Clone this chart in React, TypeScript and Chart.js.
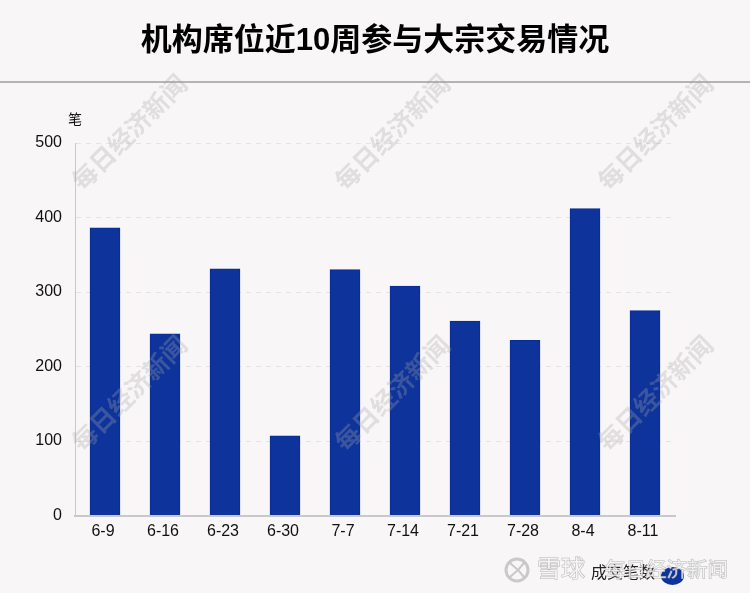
import React, { useEffect, useRef } from 'react';
import { Chart, registerables } from 'chart.js';
import type { Plugin } from 'chart.js';

Chart.register(...registerables);

const FONT = '"Liberation Sans", "Noto Sans CJK SC", sans-serif';

const weeks = ['6-9', '6-16', '6-23', '6-30', '7-7', '7-14', '7-21', '7-28', '8-4', '8-11'];
const tradeCounts = [386, 244, 331, 107, 330, 308, 261, 235, 412, 275];
const titleText = '机构席位近10周参与大宗交易情况';
const unitText = '笔';
const seriesName = '成交笔数';
const watermarkText = '每日经济新闻';
const siteText = '雪球';
const watermarkSpots = [
  [131, 134], [394, 134], [657, 134],
  [131, 395], [394, 395], [657, 395],
];

// page furniture: title, rule, unit, legend and the watermarks
const decorPlugin: Plugin<'bar'> = {
  id: 'decor',
  afterDraw(chart) {
    const { ctx } = chart;
    ctx.save();

    ctx.fillStyle = '#000';
    ctx.font = `bold 31px ${FONT}`;
    ctx.textAlign = 'center';
    ctx.textBaseline = 'middle';
    ctx.fillText(titleText, 375, 41);

    ctx.fillStyle = '#b4b4b4';
    ctx.fillRect(0, 81, 750, 2);

    ctx.fillStyle = '#111';
    ctx.font = `14px ${FONT}`;
    ctx.fillText(unitText, 75, 120);

    // legend
    ctx.fillStyle = '#222';
    ctx.font = `16px ${FONT}`;
    ctx.textAlign = 'left';
    ctx.fillText(seriesName, 591, 574);
    ctx.fillStyle = '#0e339b';
    ctx.beginPath();
    ctx.ellipse(672.5, 576, 11.5, 9, 0, 0, Math.PI * 2);
    ctx.fill();

    // repeated diagonal watermark
    ctx.fillStyle = 'rgba(165,165,165,0.3)';
    ctx.font = `bold 25px ${FONT}`;
    ctx.textAlign = 'center';
    watermarkSpots.forEach(([x, y]) => {
      ctx.save();
      ctx.translate(x, y);
      ctx.rotate(-Math.PI / 4);
      ctx.fillText(watermarkText, 0, 0);
      ctx.restore();
    });

    // site stamp, bottom right
    ctx.fillStyle = 'rgba(255,255,255,0.7)';
    ctx.strokeStyle = 'rgba(150,150,150,0.65)';
    ctx.lineWidth = 1;
    ctx.font = `20.5px ${FONT}`;
    ctx.textAlign = 'left';
    ctx.strokeText(watermarkText, 605, 571);
    ctx.fillText(watermarkText, 605, 571);
    ctx.font = `24px ${FONT}`;
    ctx.strokeText(siteText, 537, 570);
    ctx.fillText(siteText, 537, 570);
    ctx.lineWidth = 3;
    ctx.strokeStyle = 'rgba(190,190,190,0.8)';
    ctx.beginPath();
    ctx.arc(517, 570, 11, 0, Math.PI * 2);
    ctx.stroke();
    ctx.lineWidth = 2;
    ctx.beginPath();
    ctx.moveTo(510, 563);
    ctx.lineTo(518, 570);
    ctx.lineTo(510, 577);
    ctx.moveTo(524, 563);
    ctx.lineTo(518, 570);
    ctx.lineTo(524, 577);
    ctx.stroke();

    ctx.restore();
  },
};

const backgroundPlugin: Plugin<'bar'> = {
  id: 'pageBackground',
  beforeDraw(chart) {
    const { ctx, width, height } = chart;
    ctx.save();
    ctx.fillStyle = '#f9f6f7';
    ctx.fillRect(0, 0, width, height);
    ctx.restore();
  },
};

export default function App() {
  const chartRef = useRef<HTMLCanvasElement>(null);

  useEffect(() => {
    if (!chartRef.current) return;

    const chart = new Chart(chartRef.current, {
      type: 'bar',
      data: {
        labels: weeks,
        datasets: [
          {
            label: seriesName,
            data: tradeCounts,
            backgroundColor: '#0e339b',
            borderColor: '#0a2c96',
            borderWidth: 1,
            barThickness: 30,
          },
        ],
      },
      options: {
        responsive: false,
        animation: false,
        layout: { padding: { top: 143, right: 75, bottom: 0, left: 0 } },
        plugins: {
          legend: { display: false },
          title: { display: false },
          tooltip: { enabled: false },
        },
        scales: {
          x: {
            afterFit: (scale) => {
              scale.height = 77.5;
            },
            grid: { display: false },
            border: { color: '#c8c8c8', width: 2 },
            ticks: { color: '#111', font: { size: 16, family: FONT }, padding: -2, labelOffset: -2, maxRotation: 0, autoSkip: false },
          },
          y: {
            min: 0,
            max: 500,
            afterFit: (scale) => {
              scale.width = 75;
            },
            grid: { color: '#e6e3e5', tickLength: 0, drawTicks: false },
            border: { color: '#c8c8c8', width: 1, dash: [5, 5] },
            ticks: { stepSize: 100, color: '#111', font: { size: 16, family: FONT }, padding: 13 },
          },
        },
      },
      plugins: [backgroundPlugin, decorPlugin],
    });

    return () => {
      chart.destroy();
    };
  }, []);

  return (
    <div style={{ position: 'absolute', left: 0, top: 0, width: 750, height: 593 }}>
      <canvas ref={chartRef} width={750} height={593} style={{ display: 'block' }}></canvas>
    </div>
  );
}
